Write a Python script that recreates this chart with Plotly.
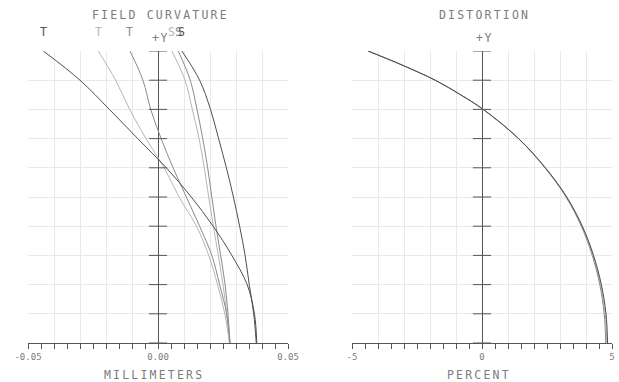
import plotly.graph_objects as go

# Normalised field height (0 = axis, 1 = full +Y field)
FIELD = [0.0, 0.1, 0.2, 0.3, 0.4, 0.5, 0.6, 0.7, 0.8, 0.9, 1.0]

# Field curvature in millimetres, tangential (T) and sagittal (S), per wavelength
T_W1 = [0.0380, 0.0371, 0.0343, 0.0284, 0.0212, 0.0128, 0.0032, -0.0078, -0.0187, -0.0300, -0.0441]
S_W1 = [0.0378, 0.0368, 0.0351, 0.0335, 0.0314, 0.0290, 0.0263, 0.0233, 0.0202, 0.0160, 0.0092]
T_W2 = [0.0277, 0.0264, 0.0237, 0.0207, 0.0160, 0.0109, 0.0058, 0.0012, -0.0028, -0.0058, -0.0108]
S_W2 = [0.0277, 0.0269, 0.0258, 0.0241, 0.0223, 0.0207, 0.0191, 0.0172, 0.0150, 0.0124, 0.0078]
T_W3 = [0.0275, 0.0257, 0.0229, 0.0195, 0.0148, 0.0081, 0.0024, -0.0046, -0.0109, -0.0163, -0.0230]
S_W3 = [0.0275, 0.0264, 0.0250, 0.0232, 0.0213, 0.0195, 0.0178, 0.0158, 0.0132, 0.0104, 0.0053]

# Distortion in percent, per wavelength
DIST_FIELD = [0.0, 0.1, 0.2, 0.3, 0.4, 0.5, 0.6, 0.7, 0.8, 0.85, 0.9, 0.95, 1.0]
DIST_W1 = [4.83, 4.77, 4.59, 4.29, 3.86, 3.26, 2.44, 1.41, 0.05, -0.82, -1.80, -3.02, -4.38]
DIST_W2 = [4.76, 4.70, 4.53, 4.24, 3.82, 3.23, 2.42, 1.40, 0.04, -0.83, -1.81, -3.03, -4.39]
DIST_W3 = [4.80, 4.74, 4.56, 4.27, 3.84, 3.25, 2.43, 1.41, 0.05, -0.82, -1.80, -3.02, -4.38]

WAVE_COLORS = ["#4f4f4f", "#8a8a8a", "#b6b6b6"]

FC_TICKS = [-0.05, -0.04, -0.03, -0.02, -0.01, 0.0, 0.01, 0.02, 0.03, 0.04, 0.05]
FC_LABELS = ["-0.05", "", "", "", "", "0.00", "", "", "", "", "0.05"]
DIST_TICKS = [-5, -4, -3, -2, -1, 0, 1, 2, 3, 4, 5]
DIST_LABELS = ["-5", "", "", "", "", "0", "", "", "", "", "5"]

FONT = "DejaVu Sans Mono"
TEXT_COLOR = "#7c7c7c"
AXIS_COLOR = "#555555"
GRID_COLOR = "#e9e9e9"

W, H = 619, 382


def px_x(p):
    return p / W


def px_y(p):
    return 1 - p / H


def spaced(text, sp=2.2):
    return f'<span style="letter-spacing:{sp}px">{text}</span>'


fig = go.Figure()

curv = [(T_W3, S_W3, WAVE_COLORS[2]), (T_W2, S_W2, WAVE_COLORS[1]), (T_W1, S_W1, WAVE_COLORS[0])]
for t_vals, s_vals, col in curv:
    for vals in (t_vals, s_vals):
        fig.add_trace(go.Scatter(x=vals, y=FIELD, mode="lines", xaxis="x", yaxis="y",
                                 line=dict(color=col, width=1, shape="spline"),
                                 hoverinfo="skip", showlegend=False))

for vals, col in [(DIST_W3, WAVE_COLORS[2]), (DIST_W2, WAVE_COLORS[1]), (DIST_W1, WAVE_COLORS[0])]:
    fig.add_trace(go.Scatter(x=vals, y=DIST_FIELD, mode="lines", xaxis="x2", yaxis="y2",
                             line=dict(color=col, width=1, shape="spline"),
                             hoverinfo="skip", showlegend=False))

# Cross ticks on the central field axis of both panels
for xa, ya in (("x", "y"), ("x2", "y2")):
    fig.add_trace(go.Scatter(x=[0] * len(FIELD), y=FIELD, mode="markers", xaxis=xa, yaxis=ya,
                             marker=dict(symbol="line-ew", size=13,
                                         line=dict(width=1, color=AXIS_COLOR)),
                             hoverinfo="skip", showlegend=False))

common_x = dict(
    tickmode="array", ticks="outside", ticklen=5, tickwidth=1, tickcolor=AXIS_COLOR,
    showline=True, linecolor=AXIS_COLOR, linewidth=1,
    showgrid=True, gridcolor=GRID_COLOR, gridwidth=1,
    zeroline=True, zerolinecolor=AXIS_COLOR, zerolinewidth=1,
    tickfont=dict(family=FONT, size=9, color=TEXT_COLOR),
    automargin=False, fixedrange=True,
)
common_y = dict(
    range=[0, 1], tickmode="array", tickvals=FIELD, showticklabels=False, ticks="",
    showgrid=True, gridcolor=GRID_COLOR, gridwidth=1, zeroline=False, showline=False,
    domain=[px_y(343), px_y(51)], automargin=False, fixedrange=True,
)

fig.update_layout(
    width=W, height=H,
    margin=dict(l=0, r=0, t=0, b=0, pad=0, autoexpand=False),
    paper_bgcolor="white", plot_bgcolor="white", showlegend=False,
    xaxis=dict(domain=[px_x(28), px_x(288)], range=[-0.05, 0.05],
               tickvals=FC_TICKS, ticktext=FC_LABELS, anchor="y",
               minor=dict(tickmode="linear", tick0=-0.05, dtick=0.005, ticks="outside",
                          ticklen=5, tickcolor=AXIS_COLOR, showgrid=False),
               **common_x),
    yaxis=dict(anchor="x", **common_y),
    xaxis2=dict(domain=[px_x(352), px_x(612)], range=[-5, 5],
                tickvals=DIST_TICKS, ticktext=DIST_LABELS, anchor="y2",
                minor=dict(tickmode="linear", tick0=-5, dtick=0.5, ticks="outside",
                           ticklen=5, tickcolor=AXIS_COLOR, showgrid=False),
                **common_x),
    yaxis2=dict(anchor="x2", **common_y),
)

ann_font = dict(family=FONT, size=11.5, color=TEXT_COLOR)
annotations = [
    dict(text=spaced("FIELD CURVATURE"), x=px_x(160), y=px_y(15)),
    dict(text=spaced("DISTORTION"), x=px_x(484), y=px_y(15)),
    dict(text=spaced("+Y", 1.5), x=px_x(160), y=px_y(38)),
    dict(text=spaced("+Y", 1.5), x=px_x(484), y=px_y(38)),
    dict(text=spaced("MILLIMETERS"), x=px_x(154), y=px_y(375)),
    dict(text=spaced("PERCENT"), x=px_x(479), y=px_y(375)),
]
for a in annotations:
    fig.add_annotation(xref="paper", yref="paper", showarrow=False,
                       xanchor="center", yanchor="middle", font=ann_font, **a)

# T / S labels above the top of each curve
for t_vals, s_vals, col in curv:
    fig.add_annotation(xref="x", yref="paper", x=t_vals[-1], y=px_y(32), text="T",
                       showarrow=False, xanchor="center", yanchor="middle",
                       font=dict(family=FONT, size=11.5, color=col))
    fig.add_annotation(xref="x", yref="paper", x=s_vals[-1], y=px_y(32), text="S",
                       showarrow=False, xanchor="center", yanchor="middle",
                       font=dict(family=FONT, size=11.5, color=col))

fig.write_html("out.html")
